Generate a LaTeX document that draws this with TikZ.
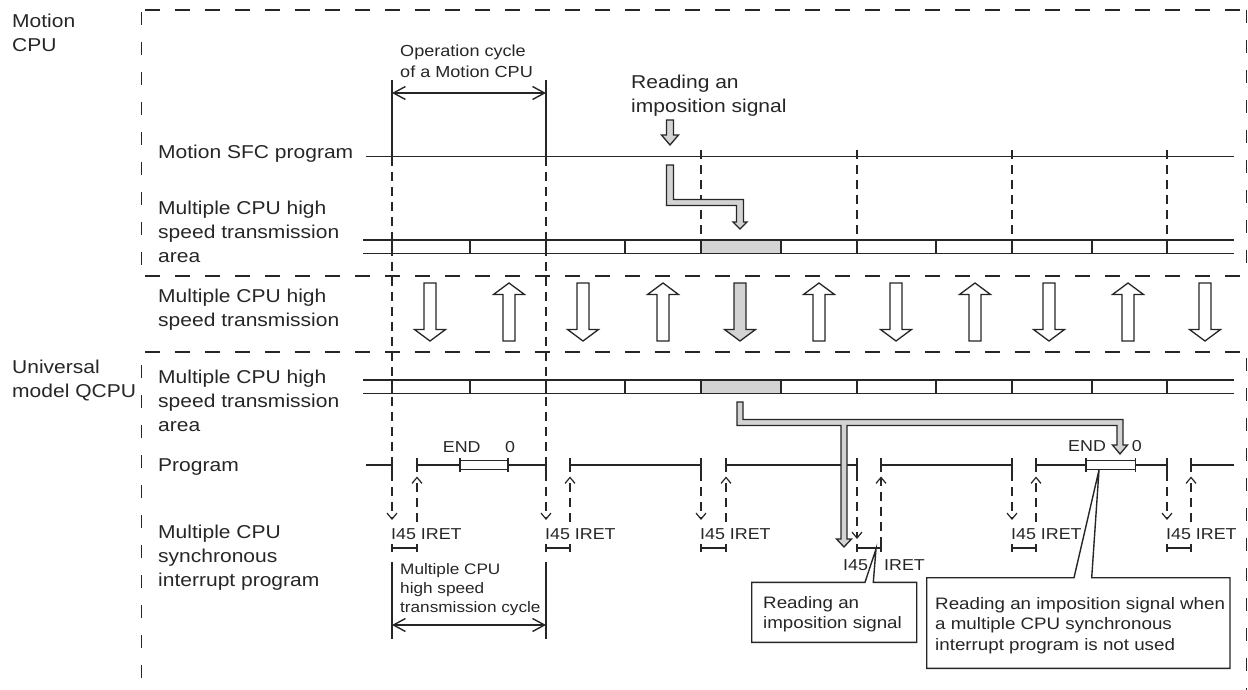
\documentclass[tikz,border=0pt]{standalone}
\usepackage{fontspec}
\setmainfont{Liberation Sans}[FakeStretch=1.13]
\usetikzlibrary{arrows.meta}
\definecolor{linec}{HTML}{262626}
\definecolor{fillg}{HTML}{D3D3D3}
\newcommand\fMain{\fontsize{18.6}{24}\selectfont}
\newcommand\fOp{\fontsize{16}{21}\selectfont}
\newcommand\fCyc{\fontsize{15.2}{19}\selectfont}
\newcommand\fLab{\fontsize{15.8}{19}\selectfont}
\newcommand\fCall{\fontsize{16.6}{20.5}\selectfont}
\begin{document}
\begin{tikzpicture}[x=1pt,y=-1pt,
  ln/.style={line width=1.4pt,draw=linec},
  frm/.style={line width=1.4pt,draw=linec,dash pattern=on 15pt off 15pt},
  frmv/.style={line width=1.4pt,draw=linec,dash pattern=on 13pt off 17pt},
  dsh/.style={line width=1.2pt,draw=linec,dash pattern=on 9pt off 6pt},
  tipv/.style={-{Straight Barb[length=6pt,width=10pt]}},
  dbl/.style={{Straight Barb[length=12pt,width=13pt]}-{Straight Barb[length=12pt,width=13pt]}},
  lbl/.style={anchor=north west,inner sep=0pt,align=left,text=linec,font=\fMain},
  sml/.style={anchor=base west,inner sep=0pt,text=linec,font=\fLab},
  blk/.style={line width=1.3pt,draw=linec,line join=miter}
]
\useasboundingbox (0,0) rectangle (1248,690);

% frames
\draw[frm] (145,10) -- (1248,10);
\draw[frmv] (141.5,12) -- (141.5,276);
\draw[frmv] (1246.5,10) -- (1246.5,276);
\draw[frm] (145,276) -- (1248,276);
\draw[frm] (145,352) -- (1248,352);
\draw[frmv] (141.5,365) -- (141.5,681);
\draw[frmv] (1246.5,358) -- (1246.5,690);

% left labels
\node[lbl] (lmotion) at (12,13.7) {Motion\\CPU};
\node[lbl] (luniv) at (12,359.7) {Universal\\model QCPU};
\node[lbl] (lsfc) at (158,144.7) {Motion SFC program};
\node[lbl] (larea1) at (158,200.7) {Multiple CPU high\\speed transmission\\area};
\node[lbl] (ltrans) at (158,288.4) {Multiple CPU high\\speed transmission};
\node[lbl] (larea2) at (158,369.7) {Multiple CPU high\\speed transmission\\area};
\node[lbl] (lprog) at (158,458.4) {Program};
\node[lbl] (lint) at (158,524.7) {Multiple CPU\\synchronous\\interrupt program};
\node[lbl] (lread) at (631,74.7) {Reading an\\imposition signal};
\node[lbl,font=\fOp] (lop) at (400,44.5) {Operation cycle\\of a Motion CPU};
\node[lbl,font=\fCyc] (lcyc) at (400,563) {Multiple CPU\\high speed\\transmission cycle};

% Motion SFC line and operation cycle bracket
\draw[ln] (366,156.7) -- (1234,156.7);
\draw[ln] (392,80) -- (392,156.7);
\draw[ln] (546,80) -- (546,156.7);
\draw[ln,dbl] (392,93) -- (546,93);

% dashed cycle lines
\draw[dsh,tipv] (392,156.7) -- (392,520);
\draw[dsh,tipv] (546,156.7) -- (546,520);
\foreach \x in {701,857,1012,1167} \draw[dsh] (\x,150) -- (\x,240);

% transmission areas
\foreach \y in {240,380} {
  \draw[ln] (363,\y) -- (1234,\y);
  \draw[ln] (363,\y+13.3) -- (1234,\y+13.3);
  \filldraw[ln,fill=fillg] (701,\y) rectangle (781,\y+13.3);
  \foreach \x in {392,470,546,625,701,781,857,936,1012,1092,1167}
    \draw[ln] (\x,\y) -- (\x,\y+13.3);
}

% block arrows in transmission band
\foreach \cx/\f in {430/white,583/white,740/fillg,896/white,1049/white,1205/white}
  \filldraw[blk,fill=\f] (\cx-6,283) -- (\cx+6,283) -- (\cx+6,329.5) -- (\cx+15.5,329.5)
     -- (\cx,341) -- (\cx-15.5,329.5) -- (\cx-6,329.5) -- cycle;
\foreach \cx in {509,663,819,975,1128}
  \filldraw[blk,fill=white] (\cx,283) -- (\cx+15.5,294.5) -- (\cx+6,294.5) -- (\cx+6,341)
     -- (\cx-6,341) -- (\cx-6,294.5) -- (\cx-15.5,294.5) -- cycle;

% program row
\foreach \a/\b in {366/392,417/546,570/701,726/857,881/1012,1036/1167,1191/1234}
  \draw[ln] (\a,465) -- (\b,465);
\foreach \x in {392,417,546,570,701,726,857,881,1012,1036,1167,1191}
  \draw[ln] (\x,458) -- (\x,472);
\foreach \a/\b in {460/508,1086/1135.7} {
  \filldraw[ln,fill=white] (\a,460.5) rectangle (\b,469.5);
  \draw[ln] (\a,458) -- (\a,472);
  \draw[ln] (\b,458) -- (\b,472);
}
\node[sml] (end1) at (442.7,452.7) {END};
\node[sml] (zero1) at (505,452.7) {0};
\node[sml] (end2) at (1068,451.7) {END};
\node[sml] (zero2) at (1131.7,451.7) {0};

% interrupt arrows
\foreach \x in {701,1012,1167} \draw[dsh,tipv] (\x,472) -- (\x,520);
\draw[dsh,tipv] (857,472) -- (857,539);
\foreach \x in {417,570,726,1036,1191} \draw[dsh,tipv] (\x,522) -- (\x,476.5);
\draw[dsh,tipv] (881,546) -- (881,476.5);

% I45 IRET brackets
\foreach \a/\b in {392/417,546/570,701/726,857/881,1012/1036,1167/1191} {
  \draw[ln] (\a,548) -- (\b,548);
  \draw[ln] (\a,544) -- (\a,552);
  \draw[ln] (\b,544) -- (\b,552);
}
\node[sml] (i1) at (391,539) {I45 IRET};
\node[sml] (i2) at (545,539) {I45 IRET};
\node[sml] (i3) at (700,539) {I45 IRET};
\node[sml] (i5) at (1011,539) {I45 IRET};
\node[sml] (i6) at (1166,539) {I45 IRET};
\node[sml] (i4a) at (843,570) {I45};
\node[sml] (i4b) at (884,570) {IRET};

% transmission cycle bracket
\draw[ln] (392,562) -- (392,639);
\draw[ln] (546,562) -- (546,639);
\draw[ln,dbl] (392,625) -- (546,625);

% gray hollow arrows
\filldraw[blk,fill=fillg] (666.5,120) -- (673.5,120) -- (673.5,135) -- (678.5,135)
   -- (670,145) -- (661.5,135) -- (666.5,135) -- cycle;
\filldraw[blk,fill=fillg] (666.5,165) -- (673.5,165) -- (673.5,199.5) -- (743.5,199.5)
   -- (743.5,222) -- (747,222) -- (740,229) -- (733,222) -- (736.5,222)
   -- (736.5,205.5) -- (666.5,205.5) -- cycle;
\filldraw[blk,fill=fillg] (737,402) -- (743,402) -- (743,419.5) -- (1123,419.5)
   -- (1123,445) -- (1127.5,445) -- (1120,454) -- (1112.5,445) -- (1117,445)
   -- (1117,425.5) -- (847,425.5) -- (847,539) -- (851.5,539) -- (844,547)
   -- (836.5,539) -- (841,539) -- (841,425.5) -- (737,425.5) -- cycle;

% callouts
\filldraw[ln,fill=white,line join=miter] (751.7,582.3) -- (865,582.3) -- (876,549)
   -- (873.3,582.3) -- (916.7,582.3) -- (916.7,642.3) -- (751.7,642.3) -- cycle;
\node[lbl,font=\fCall] (c1) at (763,596) {Reading an\\imposition signal};
\filldraw[ln,fill=white,line join=miter] (926.7,577.7) -- (1074,577.7) -- (1099,470)
   -- (1091.7,577.7) -- (1230,577.7) -- (1230,668.3) -- (926.7,668.3) -- cycle;
\node[lbl,font=\fCall] (c2) at (935,597) {Reading an imposition signal when\\a multiple CPU synchronous\\interrupt program is not used};
\end{tikzpicture}
\end{document}
